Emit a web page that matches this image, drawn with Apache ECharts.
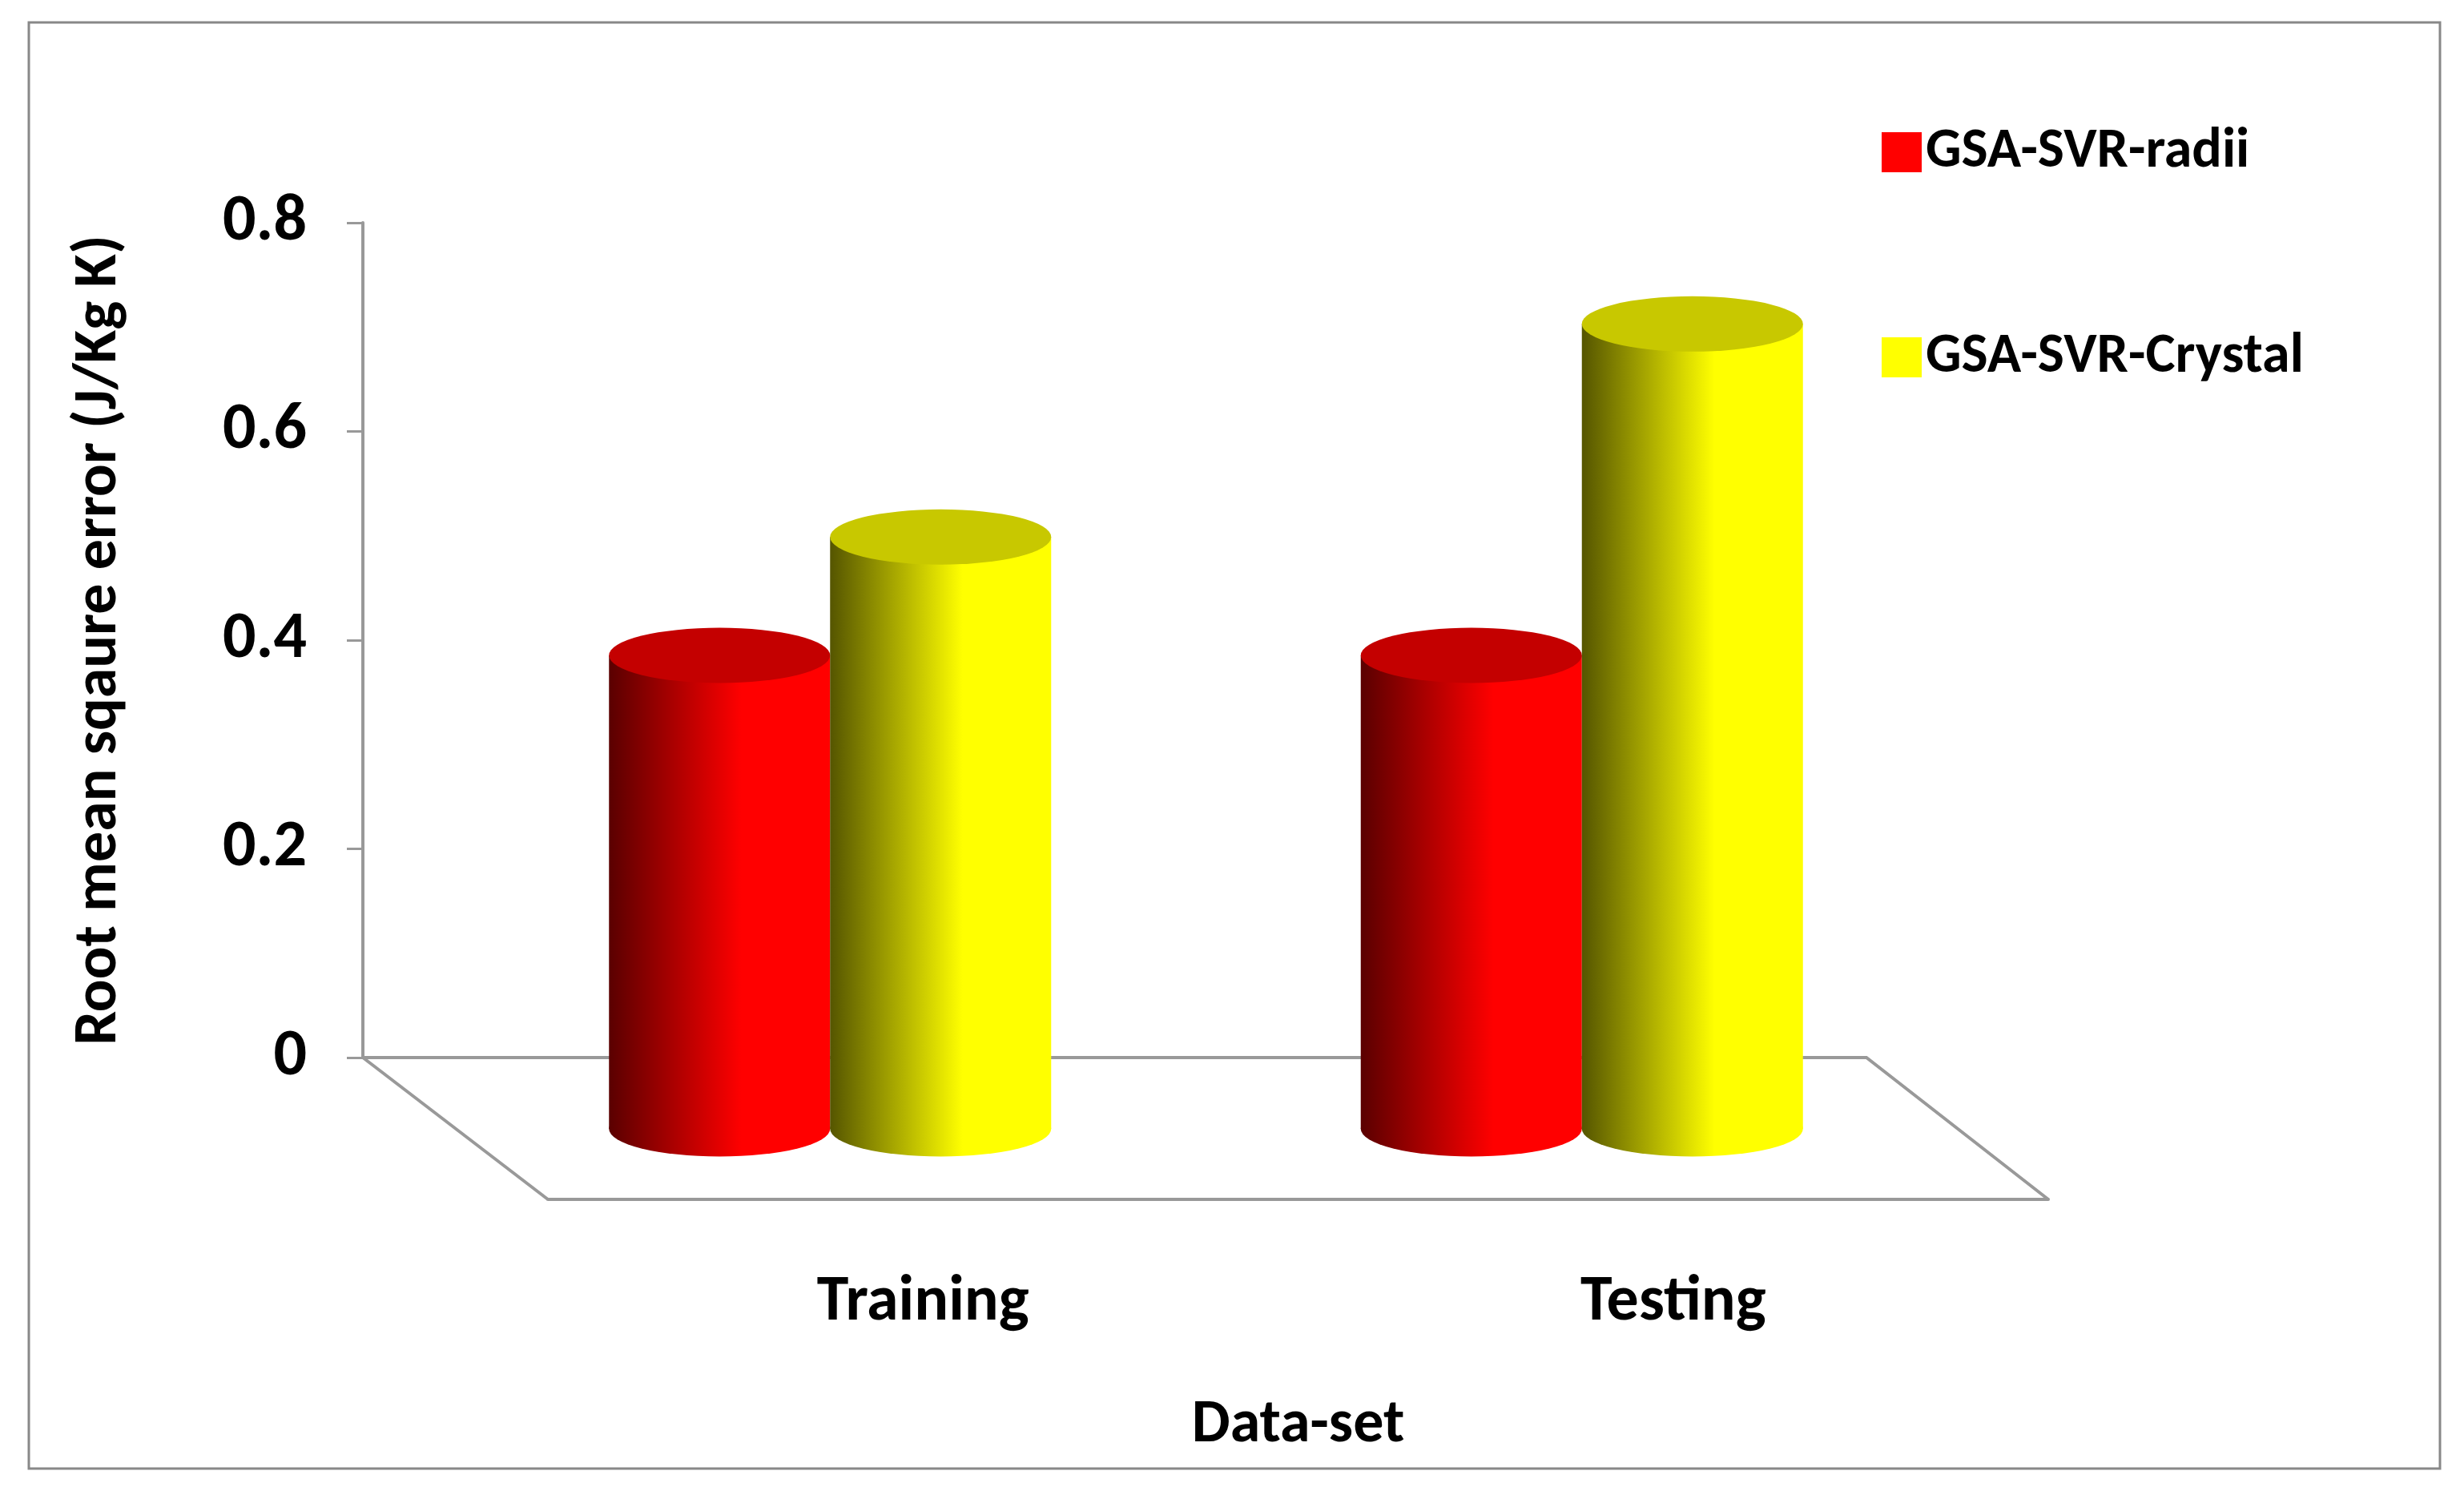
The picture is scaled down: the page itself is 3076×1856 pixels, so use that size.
<!DOCTYPE html>
<html><head><meta charset="utf-8">
<script src="https://cdn.jsdelivr.net/npm/echarts@6/dist/echarts.min.js"></script>
<style>html,body{margin:0;padding:0;background:#fff}#c{width:3076px;height:1856px}</style>
</head><body><div id="c"></div>
<script>
const categories = ['Training', 'Testing'];
const radii = [0.40, 0.40];
const crystal = [0.50, 0.68];
const seriesNames = ['GSA-SVR-radii', 'GSA-SVR-Crystal'];
const yTicks = [0, 0.2, 0.4, 0.6, 0.8];

const F = 'Calibri, "Open Sans", "Noto Sans", sans-serif';
const BW = 276;
function bodyGrad(dark, bright){
  return {type:'linear',x:0,y:0,x2:1,y2:0,colorStops:[{offset:0,color:dark},{offset:0.6,color:bright},{offset:1,color:bright}]};
}
const redBody = bodyGrad('#5a0000','#ff0000');
const yelBody = bodyGrad('#555500','#ffff00');
const chart = echarts.init(document.getElementById('c'));
const yAxisBase = {type:'value',min:0,max:0.8,interval:0.2};
function cyl(name, data, body, top, off, z){
  return [
    {name, type:'pictorialBar', xAxisIndex:1, yAxisIndex:1, data, symbol:'circle', symbolSize:[BW,69], symbolPosition:'start', symbolOffset:[off,'50%'], itemStyle:{color:body}, z:z, silent:true, legendHoverLink:false},
    {name, type:'bar', xAxisIndex:1, yAxisIndex:1, data, barWidth:BW, barGap:'0%', itemStyle:{color:body}, z:z+1},
    {name, type:'pictorialBar', xAxisIndex:1, yAxisIndex:1, data, symbol:'circle', symbolSize:[BW,69], symbolPosition:'end', symbolOffset:[off,'-50%'], itemStyle:{color:top}, z:z+2, silent:true}
  ];
}
chart.setOption({
  animation:false,
  legend:{left:2344, top:150, orient:'vertical', itemGap:186, itemWidth:50, itemHeight:50, icon:'rect',
    textStyle:{fontFamily:F, fontWeight:'bold', fontSize:70, color:'#000'},
    data:[{name:seriesNames[0], itemStyle:{color:'#ff0000'}},{name:seriesNames[1], itemStyle:{color:'#ffff00'}}]},
  grid:[
    {left:453, width:1877, top:278, bottom:536},
    {left:567, width:1877, top:227, bottom:447},
    {left:684, width:1873, top:278, bottom:359}
  ],
  xAxis:[
    {gridIndex:0, type:'category', data:categories, show:false},
    {gridIndex:1, type:'category', data:categories, show:false},
    {gridIndex:2, type:'category', data:categories, boundaryGap:true,
     axisLine:{lineStyle:{color:'#999',width:4}}, axisTick:{length:20,lineStyle:{color:'#999',width:3}},
     axisLabel:{margin:90, fontFamily:F, fontWeight:'bold', fontSize:80, color:'#000'},
     name:'Data-set', nameLocation:'middle', nameGap:245, nameTextStyle:{fontFamily:F, fontWeight:'bold', fontSize:76, color:'#000'}}
  ],
  yAxis:[
    Object.assign({gridIndex:0, axisLine:{show:true,lineStyle:{color:'#999',width:4}}, axisTick:{show:true,length:20,lineStyle:{color:'#999',width:3}},
      splitLine:{show:false}, axisLabel:{margin:70, fontFamily:F, fontWeight:'bold', fontSize:82, color:'#000', formatter:v=>yTicks.includes(+v.toFixed(1))?String(+v.toFixed(1)):''},
      name:'Root mean sqaure error (J/Kg K)', nameLocation:'middle', nameGap:290, nameRotate:90,
      nameTextStyle:{fontFamily:F, fontWeight:'bold', fontSize:76, color:'#000'}}, yAxisBase),
    Object.assign({gridIndex:1, show:false, splitLine:{show:false}}, yAxisBase),
    Object.assign({gridIndex:2, show:false, splitLine:{show:false}}, yAxisBase)
  ],
  series:[].concat(
    cyl(seriesNames[0], radii, redBody, '#c40000', -BW/2, 2),
    cyl(seriesNames[1], crystal, yelBody, '#c8c800', BW/2, 6)
  )
});
const g0 = {l:453, r:453+1877, y:1856-536};
const g2 = {l:684, r:684+1873, y:1856-359};
chart.setOption({graphic:[
  {type:'polyline', shape:{points:[[g0.l,g0.y],[g0.r,g0.y],[g2.r,g2.y]]}, style:{stroke:'#999',lineWidth:4,fill:null}, z:0},
  {type:'line', shape:{x1:g0.l,y1:g0.y,x2:g2.l,y2:g2.y}, style:{stroke:'#999',lineWidth:4}, z:0},
  {type:'rect', shape:{x:36,y:28,width:3010,height:1805}, style:{stroke:'#888',lineWidth:3,fill:null}, z:0}
]});
</script></body></html>
